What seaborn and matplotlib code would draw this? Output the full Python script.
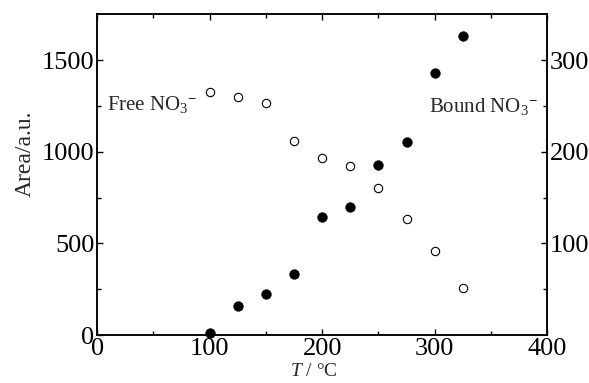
import matplotlib
matplotlib.use("Agg")
import matplotlib.pyplot as plt
import seaborn as sns
import pandas as pd
from matplotlib.ticker import MultipleLocator, FixedLocator

temps = [100, 125, 150, 175, 200, 225, 250, 275, 300, 325]
free_no3 = [1325, 1300, 1264, 1056, 968, 922, 802, 635, 456, 257]
bound_no3 = [2, 32, 45, 67, 129, 140, 185, 211, 286, 326]

sns.set_style("ticks")
plt.rcParams['font.family'] = ['Liberation Serif', 'DejaVu Serif']
plt.rcParams['mathtext.fontset'] = 'custom'
plt.rcParams['mathtext.rm'] = 'Liberation Serif'
plt.rcParams['mathtext.it'] = 'Liberation Serif:italic'
plt.rcParams['mathtext.bf'] = 'Liberation Serif:bold'

df = pd.DataFrame({"T": temps, "free": free_no3, "bound": bound_no3})

fig = plt.figure(figsize=(5.89, 3.83), dpi=100)
ax = fig.add_axes([0.165, 0.125, 0.764, 0.838])
ax2 = ax.twinx()

sns.scatterplot(data=df, x="T", y="free", ax=ax, s=36, facecolor="white",
                edgecolor="black", linewidth=0.8, zorder=3, clip_on=False)
sns.scatterplot(data=df, x="T", y="bound", ax=ax2, s=50, color="black",
                edgecolor="black", linewidth=0.3, zorder=3, clip_on=False)

ax.set_xlim(0, 400)
ax.set_ylim(0, 1750)
ax2.set_ylim(0, 350)

ax.xaxis.set_major_locator(MultipleLocator(100))
ax.xaxis.set_minor_locator(MultipleLocator(50))
ax.yaxis.set_major_locator(FixedLocator([0, 500, 1000, 1500]))
ax.yaxis.set_minor_locator(FixedLocator([250, 750, 1250]))
ax2.yaxis.set_major_locator(FixedLocator([100, 200, 300]))
ax2.yaxis.set_minor_locator(FixedLocator([50, 150, 250]))

for a in (ax, ax2):
    for sp in a.spines.values():
        sp.set_visible(True)
        sp.set_linewidth(1.1)
        sp.set_color("black")

ax.tick_params(axis="x", which="both", direction="in", top=True, bottom=True,
               labelsize=19, pad=2, width=1.0, colors="black")
ax.tick_params(axis="y", which="both", direction="in", left=True, right=False,
               labelsize=19, pad=2, width=1.0, colors="black")
ax2.tick_params(axis="y", which="both", direction="in", right=True, left=False,
                labelsize=19, pad=2, width=1.0, colors="black")
for a in (ax, ax2):
    a.tick_params(which="major", length=4)
    a.tick_params(which="minor", length=3)

ax.set_xlabel("$T$ / °C", fontsize=14, labelpad=2)
ax.xaxis.label.set_x(0.482)
ax.set_ylabel("Area/a.u.", fontsize=17, labelpad=4)
ax.yaxis.label.set_y(0.564)
ax2.set_ylabel("")

ax.text(9, 1255, "Free NO$_3$$^{\\mathbf{-}}$", fontsize=15, ha="left", va="center")
ax2.text(295, 249, "Bound NO$_3$$^{\\mathbf{-}}$", fontsize=15, ha="left", va="center")

fig.savefig("out.png", dpi=100)
